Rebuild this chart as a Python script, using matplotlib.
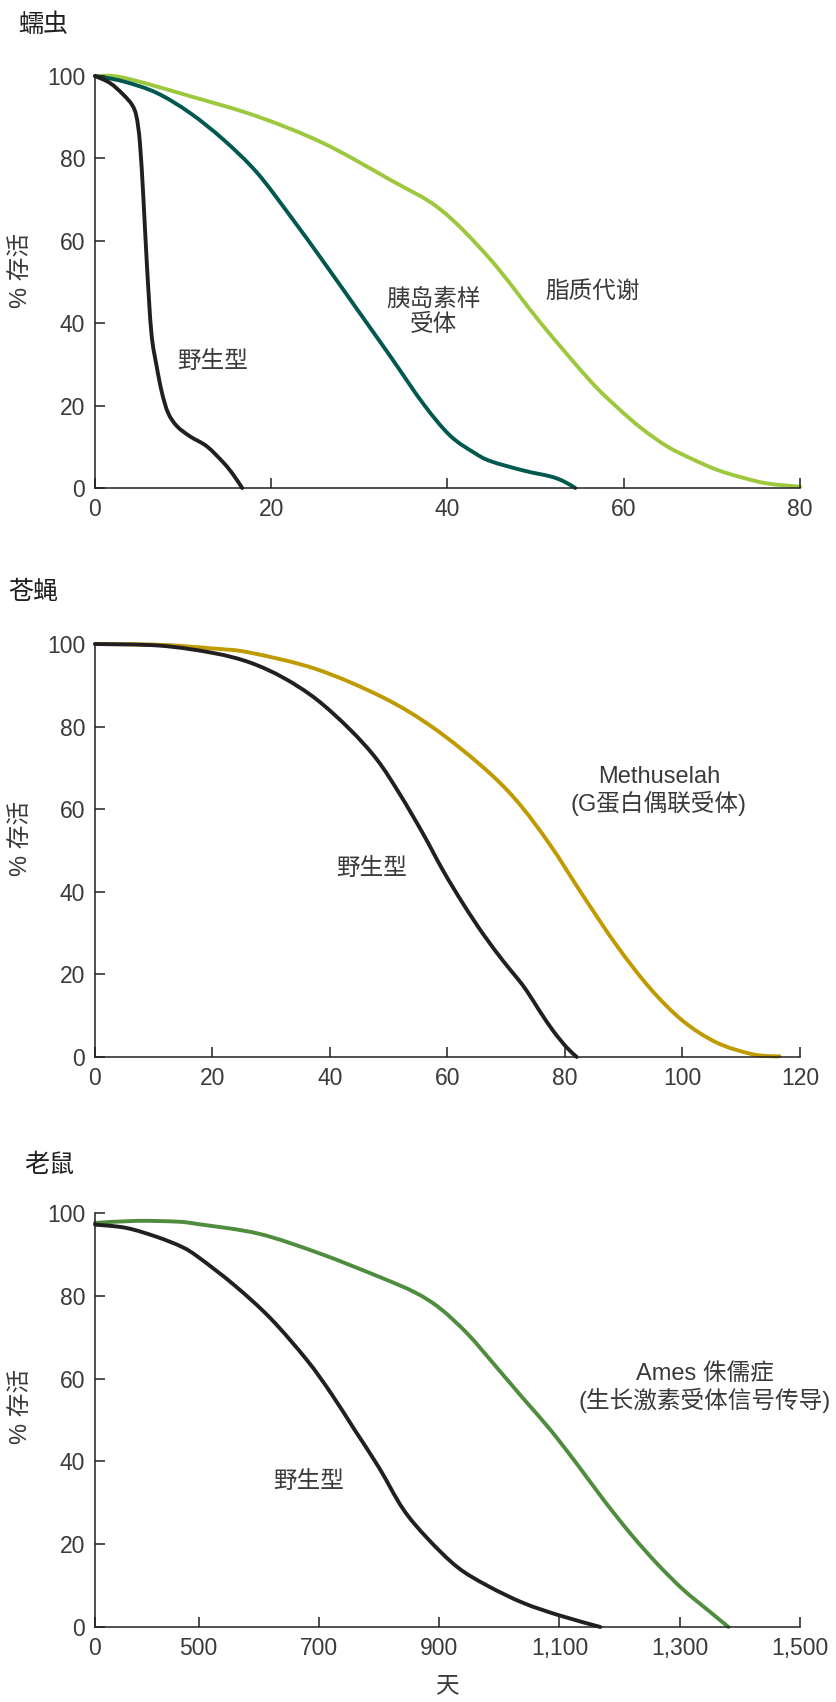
import numpy as np
import matplotlib
matplotlib.use('Agg')
import matplotlib.pyplot as plt
from matplotlib.path import Path
from matplotlib.patches import PathPatch

plt.rcParams['font.family'] = ['Liberation Sans', 'Noto Sans CJK SC', 'DejaVu Sans']

# ---- 蠕虫 (worm) ----
worm_wt_x = [0, 1.7, 3.2, 4.2, 4.7, 5.1, 5.5, 5.9, 6.4, 7.0, 7.6, 8.3, 9.3, 10.8, 12.7, 14.6, 15.7, 16.7]
worm_wt_y = [100, 98.3, 95.5, 93.0, 90.2, 83.7, 70.0, 53.8, 37.6, 29.5, 23.1, 18.2, 15.0, 12.5, 10.1, 6.1, 3.2, 0]
worm_ins_x = [0, 3.2, 7.0, 10.8, 14.6, 18.4, 22.2, 25.9, 29.7, 33.5, 37.3, 40.3, 43.0, 44.9, 48.7, 51.7,
              53.2, 54.5]
worm_ins_y = [100, 98.7, 95.9, 91.0, 84.5, 76.5, 65.9, 55.0, 43.5, 32.0, 20.3, 12.7, 8.6, 6.5, 4.2, 2.8,
              1.6, 0]
worm_lip_x = [0, 3.2, 10.8, 18.4, 25.9, 33.5, 39.2, 44.9, 50.6, 56.2, 59.3, 62, 65.0, 68, 70.6, 73.5, 76.3, 80]
worm_lip_y = [100, 99.6, 95.1, 90.2, 83.7, 74.8, 67.6, 55.4, 40.0, 26, 19.5, 14.5, 10.0, 6.8, 4.4, 2.5, 1.1, 0.3]

# ---- 苍蝇 (fly) ----
fly_wt_x = [0, 11.1, 20.2, 26.4, 32.1, 37.7, 43.4, 48.0, 51.9, 55.9, 59.3, 62.7, 66.1, 69.5, 71.8, 73.5,
            75.7, 78.0, 80.3, 82.0]
fly_wt_y = [100, 99.6, 97.8, 95.5, 91.8, 86.6, 79.3, 72.0, 63.6, 53.9, 45.0, 37.0, 29.7, 23.2, 19.2, 16.0,
            11.1, 6.3, 2.3, 0]
fly_mth_x = [0, 11.1, 20.2, 26.4, 37.7, 49.1, 57.6, 66.1, 71.8, 77.4, 83.1, 88.8, 94.5, 100.1, 105.8,
             111.5, 114.9, 116.5]
fly_mth_y = [100, 99.8, 98.9, 97.9, 93.9, 87.0, 79.7, 70.1, 62.0, 51.5, 39.0, 27.0, 16.6, 8.7, 3.5,
             0.8, 0.2, 0.2]

# ---- 老鼠 (mouse) ----
mouse_wt_x = [0, 150, 300, 420, 500, 560, 620, 680, 720, 760, 800, 840, 880, 930, 980, 1040, 1100, 1168]
mouse_wt_y = [97.2, 96.4, 94.2, 91.8, 89.3, 82.5, 74.5, 64.5, 56.5, 47.5, 38.5, 28.5, 21.5, 14.5, 10.0,
              5.8, 2.8, 0]
mouse_ames_x = [0, 200, 400, 500, 600, 700, 800, 860, 902, 948, 994, 1041, 1084, 1129, 1174, 1219, 1263,
                1306, 1350, 1381]
mouse_ames_y = [97.6, 98.1, 97.9, 97.3, 95.0, 90.3, 84.6, 80.8, 76.9, 70.7, 63.0, 55.0, 47.8, 39.4, 30.6,
                22.4, 15.2, 9.0, 3.7, 0]

worm_xticks = [0, 20, 40, 60, 80]
fly_xticks = [0, 20, 40, 60, 80, 100, 120]
mouse_xticks = [0, 500, 700, 900, 1100, 1300, 1500]
mouse_xticklabels = ['0', '500', '700', '900', '1,100', '1,300', '1,500']
yticks = [0, 20, 40, 60, 80, 100]

INK = '#231f20'
TXT = '#3a3a3a'
LW = 2.8
W, H = 837, 1702

fig = plt.figure(figsize=(W / 100, H / 100), dpi=100)


def make_ax(top_px, bottom_px):
    ax = fig.add_axes([95 / W, 1 - bottom_px / H, (800 - 95) / W, (bottom_px - top_px) / H])
    for s in ['top', 'right']:
        ax.spines[s].set_visible(False)
    for s in ['left', 'bottom']:
        ax.spines[s].set_linewidth(1.1)
        ax.spines[s].set_color(INK)
    ax.set_ylim(0, 100)
    ax.set_yticks(yticks)
    ax.tick_params(direction='in', length=7, width=1.1, color=INK,
                   labelsize=16.5, labelcolor=TXT, pad=7)
    return ax


def curve(ax, x, y, color, fwd=None, inv=None):
    # smooth curve through the read points (cubic Bezier segments)
    x = np.asarray(x, float)
    y = np.asarray(y, float)
    if fwd is not None:
        x = fwd(x)
    p = np.column_stack([x, y])
    ext = np.vstack([p[:1], p, p[-1:]])
    verts = [p[0]]
    codes = [Path.MOVETO]
    for i in range(len(p) - 1):
        c1 = ext[i + 1] + (ext[i + 2] - ext[i]) / 6
        c2 = ext[i + 2] - (ext[i + 3] - ext[i + 1]) / 6
        verts += [c1, c2, p[i + 1]]
        codes += [Path.CURVE4] * 3
    verts = np.array(verts)
    if inv is not None:
        verts[:, 0] = inv(verts[:, 0])
    ax.add_patch(PathPatch(Path(verts, codes), facecolor='none', edgecolor=color, lw=LW,
                           capstyle='round', joinstyle='round', clip_on=False))


lab = dict(fontsize=17, color=TXT, ha='center', va='center', linespacing=1.15, fontweight='light')

# 蠕虫
ax1 = make_ax(76, 488)
curve(ax1, worm_lip_x, worm_lip_y, '#9dc73c')
curve(ax1, worm_ins_x, worm_ins_y, '#00584f')
curve(ax1, worm_wt_x, worm_wt_y, INK)
ax1.set_xlim(0, 80)
ax1.set_xticks(worm_xticks)
ax1.text(13.4, 30.6, '野生型', **lab)
ax1.text(38.4, 42.5, '胰岛素样\n受体', **lab)
ax1.text(56.5, 47.6, '脂质代谢', **lab)

# 苍蝇
ax2 = make_ax(644, 1057)
curve(ax2, fly_mth_x, fly_mth_y, '#bf9a00')
curve(ax2, fly_wt_x, fly_wt_y, INK)
ax2.set_xlim(0, 120)
ax2.set_xticks(fly_xticks)
ax2.text(47.0, 45.6, '野生型', **lab)
ax2.text(96.0, 64.5, 'Methuselah\n(G蛋白偶联受体)', **lab)

# 老鼠 -- x axis compressed below 500 days
k = 0.3444


def fwd(x):
    x = np.asarray(x, dtype=float)
    return np.where(x < 500, x * k, 500 * k + x - 500)


def inv(p):
    p = np.asarray(p, dtype=float)
    return np.where(p < 500 * k, p / k, p - 500 * k + 500)


ax3 = make_ax(1213, 1627)
ax3.set_xscale('function', functions=(fwd, inv))
curve(ax3, mouse_ames_x, mouse_ames_y, '#4e8c3e', fwd, inv)
curve(ax3, mouse_wt_x, mouse_wt_y, INK, fwd, inv)
ax3.set_xlim(0, 1500)
ax3.set_xticks(mouse_xticks)
ax3.set_xticklabels(mouse_xticklabels)
ax3.xaxis.set_minor_locator(matplotlib.ticker.NullLocator())
ax3.tick_params(direction='in', length=7, width=1.1, color=INK, labelsize=16.5, labelcolor=TXT, pad=7)
ax3.text(683, 35, '野生型', **lab)
ax3.text(1342, 57.7, 'Ames 侏儒症\n(生长激素受体信号传导)', **lab)

# panel titles, y labels, x label
for txt, x, y in [('蠕虫', 18, 25), ('苍蝇', 8, 592), ('老鼠', 24, 1165)]:
    fig.text(x / W, 1 - y / H, txt, fontsize=18, color=INK, ha='left', va='center', fontweight='light')
for y in [270, 838, 1407]:
    fig.text(21 / W, 1 - y / H, '% 存活', fontsize=17, color=TXT, rotation=90, ha='center', va='center',
             fontweight='light')
fig.text(448 / W, 1 - 1686 / H, '天', **lab)

fig.savefig('out.png', dpi=100, facecolor='white')
